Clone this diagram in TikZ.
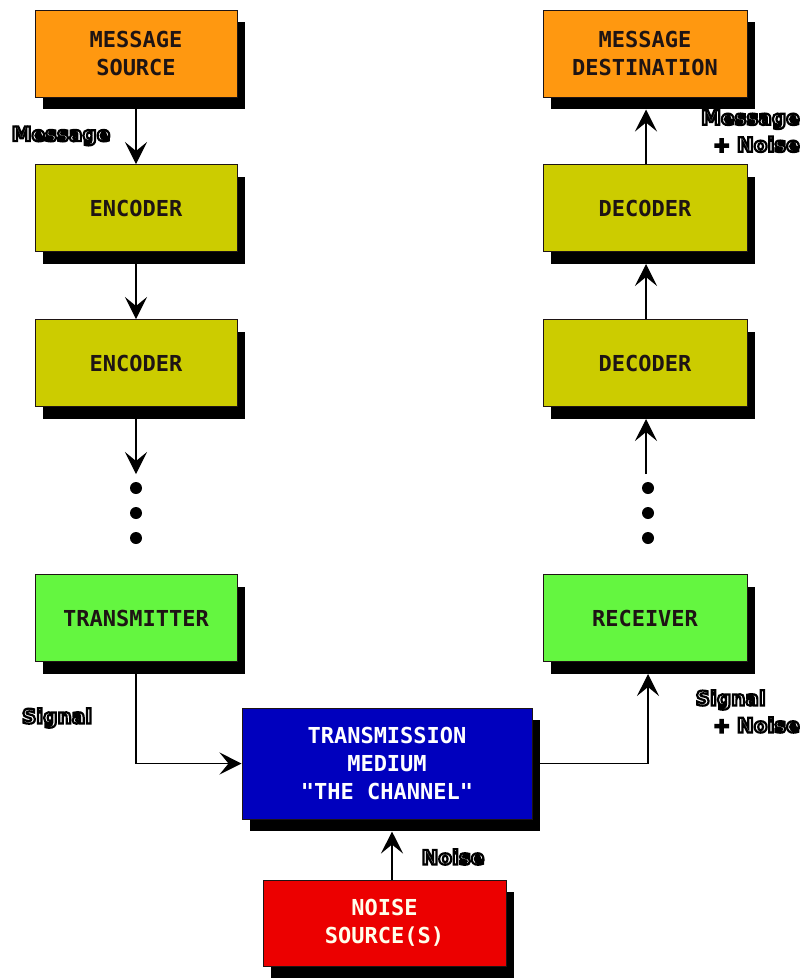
\documentclass[tikz,border=0pt]{standalone}
\usepackage{fontspec}
\usetikzlibrary{arrows.meta,shadows}
\newfontfamily\boxfont{DejaVu Sans Mono}[BoldFont={DejaVu Sans Mono Bold}]
\newfontfamily\lblfont{DejaVu Sans}[BoldFont={DejaVu Sans Bold}]
\newcommand\outl[1]{\special{pdf:literal direct 0 0 0 RG 2 Tr 2.2 w}#1\special{pdf:literal direct 0 Tr 1 w}}
\definecolor{cOrange}{RGB}{255,152,16}
\definecolor{cYellow}{RGB}{204,204,0}
\definecolor{cGreen}{RGB}{100,246,64}
\definecolor{cBlue}{RGB}{0,0,190}
\definecolor{cRed}{RGB}{236,0,0}
\definecolor{cDark}{RGB}{30,20,20}
\tikzset{
  blk/.style={draw=cDark, line width=1pt, minimum width=202pt, minimum height=87pt,
    align=center, inner sep=0pt, text=cDark,
    font={\boxfont\bfseries\fontsize{22}{28}\selectfont},
    general shadow={fill=black, shadow xshift=8pt, shadow yshift=-12pt}},
  conn/.style={draw=black, line width=1.3pt},
  arr/.style={conn, -{Stealth[length=22pt,width=22pt,inset=9pt]}},
  lbl/.style={text=white, inner sep=0pt, font={\lblfont\bfseries\fontsize{20}{27}\selectfont}, align=right},
  dotc/.style={fill=black, circle, inner sep=0pt, minimum size=12pt}
}
\begin{document}
\begin{tikzpicture}[x=1pt,y=-1pt]
\useasboundingbox[fill=white] (0,0) rectangle (805,978);
% left column
\node[blk, fill=cOrange] (src) at (136,53.5) {MESSAGE\\SOURCE};
\node[blk, fill=cYellow] (enc1) at (136,208) {ENCODER};
\node[blk, fill=cYellow] (enc2) at (136,363) {ENCODER};
\node[blk, fill=cGreen] (tx) at (136,618) {TRANSMITTER};
% right column
\node[blk, fill=cOrange, minimum width=204pt] (dst) at (645,53.5) {MESSAGE\\DESTINATION};
\node[blk, fill=cYellow, minimum width=204pt] (dec1) at (645,208) {DECODER};
\node[blk, fill=cYellow, minimum width=204pt] (dec2) at (645,363) {DECODER};
\node[blk, fill=cGreen, minimum width=204pt] (rx) at (645,618) {RECEIVER};
% bottom
\node[blk, fill=cBlue, text=white, minimum width=290pt, minimum height=111pt] (ch) at (387,763.5) {TRANSMISSION\\MEDIUM\\"THE CHANNEL"};
\node[blk, fill=cRed, text=white!92!yellow, minimum width=243pt, minimum height=86pt] (ns) at (384.5,923) {NOISE\\SOURCE(S)};
% dots
\coordinate (lend) at (136,474);
\coordinate (rstart) at (646,474);
\node[dotc] (ld1) at (136,488) {};
\node[dotc] (ld2) at (136,513) {};
\node[dotc] (ld3) at (136,538) {};
\node[dotc] (rd1) at (648,488) {};
\node[dotc] (rd2) at (648,513) {};
\node[dotc] (rd3) at (648,538) {};
% connectors left
\draw[arr] (src.south) -- (enc1.north);
\draw[arr] (enc1.south) -- (enc2.north);
\draw[arr] (enc2.south) -- (lend);
\draw[arr] (tx.south) |- (ch.west);
% connectors right
\draw[arr] ([xshift=3pt]ch.east) -| ([xshift=3pt,yshift=-12pt]rx.south);
\draw[arr] (rstart) -- ([xshift=1pt,yshift=-12pt]dec2.south);
\draw[arr] ([xshift=1pt]dec2.north) -- ([xshift=1pt,yshift=-12pt]dec1.south);
\draw[arr] ([xshift=1pt]dec1.north) -- ([xshift=1pt,yshift=-12pt]dst.south);
\draw[arr] ([xshift=5pt]ch.south |- ns.north) -- ([xshift=5pt,yshift=-12pt]ch.south);
% labels
\node[lbl] (lmsg) at (61,136) {\outl{Message}};
\node[lbl, anchor=north east] (rmsg) at (800,110) {\outl{Message}\\\outl{+ Noise}};
\node[lbl] (lsig) at (57,718) {\outl{Signal}};
\node[lbl, anchor=north east] (rsig) at (800,690) {\outl{Signal}\hspace*{34pt}\\\outl{+ Noise}};
\node[lbl] (lnoise) at (453,857) {\outl{Noise}};
\end{tikzpicture}
\end{document}
